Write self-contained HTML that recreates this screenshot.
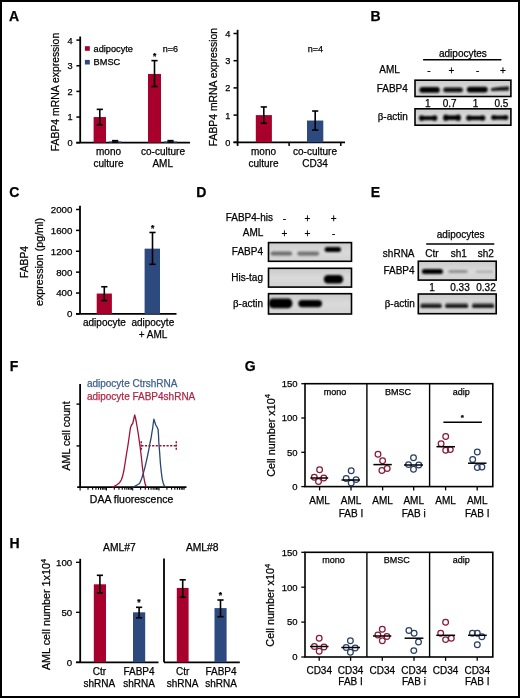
<!DOCTYPE html>
<html><head><meta charset="utf-8"><style>
html,body{margin:0;padding:0;background:#fff;}
svg{display:block;font-family:"Liberation Sans", sans-serif;will-change:transform;} text{stroke-width:0.25px;}
</style></head><body>
<svg width="520" height="698" viewBox="0 0 520 698">
<defs><filter id="bl1" x="-20%" y="-50%" width="140%" height="200%"><feGaussianBlur stdDeviation="0.9"/></filter><filter id="bl2" x="-20%" y="-50%" width="140%" height="200%"><feGaussianBlur stdDeviation="1.3"/></filter><linearGradient id="blotbg" x1="0" y1="0" x2="0" y2="1"><stop offset="0" stop-color="#cbcbcb"/><stop offset="0.5" stop-color="#dadada"/><stop offset="1" stop-color="#d2d2d2"/></linearGradient></defs>
<rect x="0" y="0" width="520" height="698" fill="#fff"/>
<rect x="1" y="1" width="518" height="696" fill="none" stroke="#000" stroke-width="2"/>
<text x="9.1" y="20.9" font-size="14" text-anchor="start" font-weight="bold" fill="#000" stroke="#000">A</text>
<text x="370.6" y="20.8" font-size="14" text-anchor="start" font-weight="bold" fill="#000" stroke="#000">B</text>
<text x="9.2" y="196.8" font-size="14" text-anchor="start" font-weight="bold" fill="#000" stroke="#000">C</text>
<text x="196.3" y="196.8" font-size="14" text-anchor="start" font-weight="bold" fill="#000" stroke="#000">D</text>
<text x="370.8" y="196.8" font-size="14" text-anchor="start" font-weight="bold" fill="#000" stroke="#000">E</text>
<text x="9.7" y="370.5" font-size="14" text-anchor="start" font-weight="bold" fill="#000" stroke="#000">F</text>
<text x="244.8" y="371.2" font-size="14" text-anchor="start" font-weight="bold" fill="#000" stroke="#000">G</text>
<text x="9.6" y="548" font-size="14" text-anchor="start" font-weight="bold" fill="#000" stroke="#000">H</text>
<line x1="80.2" y1="36.5" x2="80.2" y2="142.7" stroke="#000" stroke-width="1.8"/>
<line x1="76.2" y1="142.7" x2="190" y2="142.7" stroke="#000" stroke-width="1.8"/>
<line x1="76.4" y1="142.7" x2="80.2" y2="142.7" stroke="#000" stroke-width="1.5"/>
<text x="72.6" y="146.1" font-size="9.2" text-anchor="end" font-weight="normal" fill="#000" stroke="#000">0</text>
<line x1="76.4" y1="117.04999999999998" x2="80.2" y2="117.04999999999998" stroke="#000" stroke-width="1.5"/>
<text x="72.6" y="120.44999999999999" font-size="9.2" text-anchor="end" font-weight="normal" fill="#000" stroke="#000">1</text>
<line x1="76.4" y1="91.39999999999999" x2="80.2" y2="91.39999999999999" stroke="#000" stroke-width="1.5"/>
<text x="72.6" y="94.8" font-size="9.2" text-anchor="end" font-weight="normal" fill="#000" stroke="#000">2</text>
<line x1="76.4" y1="65.75" x2="80.2" y2="65.75" stroke="#000" stroke-width="1.5"/>
<text x="72.6" y="69.15" font-size="9.2" text-anchor="end" font-weight="normal" fill="#000" stroke="#000">3</text>
<line x1="76.4" y1="40.099999999999994" x2="80.2" y2="40.099999999999994" stroke="#000" stroke-width="1.5"/>
<text x="72.6" y="43.49999999999999" font-size="9.2" text-anchor="end" font-weight="normal" fill="#000" stroke="#000">4</text>
<text x="59.3" y="92" font-size="10.4" text-anchor="middle" font-weight="normal" fill="#000" stroke="#000" transform="rotate(-90 59.3 92)">FABP4 mRNA expression</text>
<rect x="84.9" y="46.2" width="4.9" height="4.6" fill="#a8002c"/>
<text x="93.6" y="51.6" font-size="9.2" text-anchor="start" font-weight="normal" fill="#000" stroke="#000">adipocyte</text>
<rect x="84.9" y="59.9" width="4.9" height="4.6" fill="#2c4a7e"/>
<text x="93.6" y="65.4" font-size="9.2" text-anchor="start" font-weight="normal" fill="#000" stroke="#000">BMSC</text>
<text x="162.8" y="51.8" font-size="9" text-anchor="start" font-weight="normal" fill="#000" stroke="#000">n=6</text>
<rect x="93.6" y="117.04999999999998" width="12.4" height="25.650000000000006" fill="#a8002c"/>
<line x1="99.8" y1="109.35499999999999" x2="99.8" y2="124.74499999999999" stroke="#000" stroke-width="1.6"/>
<line x1="96.7" y1="109.35499999999999" x2="102.89999999999999" y2="109.35499999999999" stroke="#000" stroke-width="1.6"/>
<line x1="96.7" y1="124.74499999999999" x2="102.89999999999999" y2="124.74499999999999" stroke="#000" stroke-width="1.6"/>
<rect x="109.1" y="141.4175" width="12.1" height="1.2824999999999989" fill="#2c4a7e"/>
<line x1="115.15" y1="140.648" x2="115.15" y2="142.18699999999998" stroke="#000" stroke-width="1.6"/>
<line x1="112.05000000000001" y1="140.648" x2="118.25" y2="140.648" stroke="#000" stroke-width="1.6"/>
<line x1="112.05000000000001" y1="142.18699999999998" x2="118.25" y2="142.18699999999998" stroke="#000" stroke-width="1.6"/>
<rect x="148" y="73.95799999999998" width="13" height="68.742" fill="#a8002c"/>
<line x1="154.5" y1="60.61999999999999" x2="154.5" y2="86.5265" stroke="#000" stroke-width="1.6"/>
<line x1="151.4" y1="60.61999999999999" x2="157.6" y2="60.61999999999999" stroke="#000" stroke-width="1.6"/>
<line x1="151.4" y1="86.5265" x2="157.6" y2="86.5265" stroke="#000" stroke-width="1.6"/>
<rect x="164" y="141.4175" width="13" height="1.2824999999999989" fill="#2c4a7e"/>
<line x1="170.5" y1="140.648" x2="170.5" y2="142.18699999999998" stroke="#000" stroke-width="1.6"/>
<line x1="167.4" y1="140.648" x2="173.6" y2="140.648" stroke="#000" stroke-width="1.6"/>
<line x1="167.4" y1="142.18699999999998" x2="173.6" y2="142.18699999999998" stroke="#000" stroke-width="1.6"/>
<text x="154.6" y="58.87" font-size="8.5" text-anchor="middle" font-weight="bold" fill="#000" stroke="#000">*</text>
<text x="108.5" y="154.9" font-size="10" text-anchor="middle" font-weight="normal" fill="#000" stroke="#000">mono</text>
<text x="108.5" y="166.9" font-size="10" text-anchor="middle" font-weight="normal" fill="#000" stroke="#000">culture</text>
<text x="163" y="154.9" font-size="10" text-anchor="middle" font-weight="normal" fill="#000" stroke="#000">co-culture</text>
<text x="162.7" y="166.9" font-size="10" text-anchor="middle" font-weight="normal" fill="#000" stroke="#000">AML</text>
<line x1="237.6" y1="29.8" x2="237.6" y2="145.9" stroke="#000" stroke-width="1.8"/>
<line x1="233.5" y1="142.3" x2="345" y2="142.3" stroke="#000" stroke-width="1.8"/>
<line x1="233.5" y1="142.3" x2="237.6" y2="142.3" stroke="#000" stroke-width="1.5"/>
<text x="230.4" y="145.70000000000002" font-size="9.2" text-anchor="end" font-weight="normal" fill="#000" stroke="#000">0</text>
<line x1="233.5" y1="115.10000000000001" x2="237.6" y2="115.10000000000001" stroke="#000" stroke-width="1.5"/>
<text x="230.4" y="118.50000000000001" font-size="9.2" text-anchor="end" font-weight="normal" fill="#000" stroke="#000">1</text>
<line x1="233.5" y1="87.9" x2="237.6" y2="87.9" stroke="#000" stroke-width="1.5"/>
<text x="230.4" y="91.30000000000001" font-size="9.2" text-anchor="end" font-weight="normal" fill="#000" stroke="#000">2</text>
<line x1="233.5" y1="60.70000000000002" x2="237.6" y2="60.70000000000002" stroke="#000" stroke-width="1.5"/>
<text x="230.4" y="64.10000000000002" font-size="9.2" text-anchor="end" font-weight="normal" fill="#000" stroke="#000">3</text>
<line x1="233.5" y1="33.500000000000014" x2="237.6" y2="33.500000000000014" stroke="#000" stroke-width="1.5"/>
<text x="230.4" y="36.90000000000001" font-size="9.2" text-anchor="end" font-weight="normal" fill="#000" stroke="#000">4</text>
<line x1="289.1" y1="142.3" x2="289.1" y2="146" stroke="#000" stroke-width="1.5"/>
<line x1="340.8" y1="142.3" x2="340.8" y2="146" stroke="#000" stroke-width="1.5"/>
<text x="217.3" y="87.1" font-size="10.4" text-anchor="middle" font-weight="normal" fill="#000" stroke="#000" transform="rotate(-90 217.3 87.1)">FABP4 mRNA expression</text>
<text x="307.7" y="51.8" font-size="9" text-anchor="start" font-weight="normal" fill="#000" stroke="#000">n=4</text>
<rect x="255.8" y="115.10000000000001" width="16.1" height="27.200000000000003" fill="#a8002c"/>
<line x1="263.8" y1="106.94000000000001" x2="263.8" y2="123.26000000000002" stroke="#000" stroke-width="1.6"/>
<line x1="260.7" y1="106.94000000000001" x2="266.90000000000003" y2="106.94000000000001" stroke="#000" stroke-width="1.6"/>
<line x1="260.7" y1="123.26000000000002" x2="266.90000000000003" y2="123.26000000000002" stroke="#000" stroke-width="1.6"/>
<rect x="307" y="120.54" width="16.3" height="21.760000000000005" fill="#2c4a7e"/>
<line x1="315.2" y1="111.02000000000001" x2="315.2" y2="130.06" stroke="#000" stroke-width="1.6"/>
<line x1="312.09999999999997" y1="111.02000000000001" x2="318.3" y2="111.02000000000001" stroke="#000" stroke-width="1.6"/>
<line x1="312.09999999999997" y1="130.06" x2="318.3" y2="130.06" stroke="#000" stroke-width="1.6"/>
<text x="263.5" y="154.5" font-size="10" text-anchor="middle" font-weight="normal" fill="#000" stroke="#000">mono</text>
<text x="263.5" y="167.2" font-size="10" text-anchor="middle" font-weight="normal" fill="#000" stroke="#000">culture</text>
<text x="315" y="154.5" font-size="10" text-anchor="middle" font-weight="normal" fill="#000" stroke="#000">co-culture</text>
<text x="315" y="167.2" font-size="10" text-anchor="middle" font-weight="normal" fill="#000" stroke="#000">CD34</text>
<line x1="80" y1="205.8" x2="80" y2="313.9" stroke="#000" stroke-width="1.8"/>
<line x1="76" y1="313.9" x2="176.5" y2="313.9" stroke="#000" stroke-width="1.8"/>
<line x1="76" y1="313.9" x2="80" y2="313.9" stroke="#000" stroke-width="1.5"/>
<text x="72.4" y="317.29999999999995" font-size="9.7" text-anchor="end" font-weight="normal" fill="#000" stroke="#000">0</text>
<line x1="76" y1="293.02" x2="80" y2="293.02" stroke="#000" stroke-width="1.5"/>
<text x="72.4" y="296.41999999999996" font-size="9.7" text-anchor="end" font-weight="normal" fill="#000" stroke="#000">400</text>
<line x1="76" y1="272.14" x2="80" y2="272.14" stroke="#000" stroke-width="1.5"/>
<text x="72.4" y="275.53999999999996" font-size="9.7" text-anchor="end" font-weight="normal" fill="#000" stroke="#000">800</text>
<line x1="76" y1="251.26" x2="80" y2="251.26" stroke="#000" stroke-width="1.5"/>
<text x="72.4" y="254.66" font-size="9.7" text-anchor="end" font-weight="normal" fill="#000" stroke="#000">1200</text>
<line x1="76" y1="230.37999999999997" x2="80" y2="230.37999999999997" stroke="#000" stroke-width="1.5"/>
<text x="72.4" y="233.77999999999997" font-size="9.7" text-anchor="end" font-weight="normal" fill="#000" stroke="#000">1600</text>
<line x1="76" y1="209.49999999999997" x2="80" y2="209.49999999999997" stroke="#000" stroke-width="1.5"/>
<text x="72.4" y="212.89999999999998" font-size="9.7" text-anchor="end" font-weight="normal" fill="#000" stroke="#000">2000</text>
<text x="27.5" y="262" font-size="10.3" text-anchor="middle" font-weight="normal" fill="#000" stroke="#000" transform="rotate(-90 27.5 262)">FABP4</text>
<text x="43.4" y="262" font-size="10.7" text-anchor="middle" font-weight="normal" fill="#000" stroke="#000" transform="rotate(-90 43.4 262)">expression (pg/ml)</text>
<rect x="96.7" y="293.542" width="15.2" height="20.358000000000004" fill="#a8002c"/>
<line x1="104.3" y1="286.756" x2="104.3" y2="300.589" stroke="#000" stroke-width="1.6"/>
<line x1="101.2" y1="286.756" x2="107.39999999999999" y2="286.756" stroke="#000" stroke-width="1.6"/>
<line x1="101.2" y1="300.589" x2="107.39999999999999" y2="300.589" stroke="#000" stroke-width="1.6"/>
<rect x="144.6" y="248.64999999999998" width="15.4" height="65.25" fill="#2c4a7e"/>
<line x1="152.5" y1="232.46799999999996" x2="152.5" y2="264.30999999999995" stroke="#000" stroke-width="1.6"/>
<line x1="149.4" y1="232.46799999999996" x2="155.6" y2="232.46799999999996" stroke="#000" stroke-width="1.6"/>
<line x1="149.4" y1="264.30999999999995" x2="155.6" y2="264.30999999999995" stroke="#000" stroke-width="1.6"/>
<text x="152.6" y="231.17" font-size="8.5" text-anchor="middle" font-weight="bold" fill="#000" stroke="#000">*</text>
<text x="104.4" y="326.4" font-size="10" text-anchor="middle" font-weight="normal" fill="#000" stroke="#000">adipocyte</text>
<text x="152.8" y="326.4" font-size="10" text-anchor="middle" font-weight="normal" fill="#000" stroke="#000">adipocyte</text>
<text x="153" y="338" font-size="10" text-anchor="middle" font-weight="normal" fill="#000" stroke="#000">+ AML</text>
<text x="462.9" y="56.5" font-size="10" text-anchor="middle" font-weight="normal" fill="#000" stroke="#000">adipocytes</text>
<line x1="423.1" y1="59.7" x2="501.4" y2="59.7" stroke="#000" stroke-width="1.5"/>
<text x="389.6" y="72.8" font-size="10" text-anchor="middle" font-weight="normal" fill="#000" stroke="#000">AML</text>
<text x="429" y="74" font-size="10" text-anchor="middle" font-weight="normal" fill="#000" stroke="#000">-</text>
<text x="451.3" y="74" font-size="10" text-anchor="middle" font-weight="normal" fill="#000" stroke="#000">+</text>
<text x="477.7" y="74" font-size="10" text-anchor="middle" font-weight="normal" fill="#000" stroke="#000">-</text>
<text x="503" y="74" font-size="10" text-anchor="middle" font-weight="normal" fill="#000" stroke="#000">+</text>
<rect x="415" y="80.2" width="95.89999999999998" height="16.299999999999997" fill="url(#blotbg)" stroke="#000" stroke-width="1.6"/>
<rect x="419.40000000000003" y="87.10000000000001" width="20.4" height="5.6" rx="2.8" ry="2.8" fill="#050505" opacity="1" filter="url(#bl1)"/>
<rect x="443.1" y="87.60000000000001" width="19.9" height="4.6" rx="2.3" ry="2.3" fill="#0a0a0a" opacity="1" filter="url(#bl1)"/>
<rect x="466.8" y="86.8" width="21.00000000000002" height="5.6" rx="2.8" ry="2.8" fill="#030303" opacity="1" filter="url(#bl1)"/>
<path d="M491,90.4 L491,88.2 Q499,86.6 509,86.4 L509,90.6 Q499,90.6 491,91.0 Z" fill="#0a0a0a" filter="url(#bl1)"/>
<text x="392.3" y="92" font-size="10" text-anchor="middle" font-weight="normal" fill="#000" stroke="#000">FABP4</text>
<text x="427.8" y="107.3" font-size="10" text-anchor="middle" font-weight="normal" fill="#000" stroke="#000">1</text>
<text x="449.6" y="107.3" font-size="10" text-anchor="middle" font-weight="normal" fill="#000" stroke="#000">0.7</text>
<text x="475.6" y="107.3" font-size="10" text-anchor="middle" font-weight="normal" fill="#000" stroke="#000">1</text>
<text x="501.4" y="107.3" font-size="10" text-anchor="middle" font-weight="normal" fill="#000" stroke="#000">0.5</text>
<rect x="415" y="108.8" width="95.89999999999998" height="16.400000000000006" fill="url(#blotbg)" stroke="#000" stroke-width="1.6"/>
<g filter="url(#bl1)" fill="#050505"><ellipse cx="421.658" cy="118.1" rx="2.7579999999999987" ry="2.8"/><ellipse cx="434.642" cy="118.1" rx="2.7579999999999987" ry="2.8"/><rect x="421.058" y="116.1" width="14.18399999999999" height="4.0"/></g>
<g filter="url(#bl1)" fill="#050505"><ellipse cx="445.76000000000005" cy="117.7" rx="2.66" ry="3.2"/><ellipse cx="458.23999999999995" cy="117.7" rx="2.66" ry="3.2"/><rect x="445.16" y="115.4" width="13.68" height="4.6"/></g>
<g filter="url(#bl1)" fill="#050505"><ellipse cx="468.97" cy="118.0" rx="2.87" ry="2.8"/><ellipse cx="482.53" cy="118.0" rx="2.87" ry="2.8"/><rect x="468.37" y="115.9" width="14.76" height="4.2"/></g>
<g filter="url(#bl1)" fill="#050505"><ellipse cx="493.69" cy="117.6" rx="2.5900000000000003" ry="2.5"/><ellipse cx="505.81" cy="117.6" rx="2.5900000000000003" ry="2.5"/><rect x="493.09" y="115.6" width="13.32" height="4.0"/></g>
<text x="407.8" y="120.2" font-size="10" text-anchor="end" stroke="#000"><tspan font-family="Liberation Serif, serif" font-size="11.0">&#946;</tspan>-actin</text>
<text x="249.3" y="221.2" font-size="10" text-anchor="middle" font-weight="normal" fill="#000" stroke="#000">FABP4-his</text>
<text x="253" y="235.7" font-size="10" text-anchor="middle" font-weight="normal" fill="#000" stroke="#000">AML</text>
<text x="284.5" y="222" font-size="10" text-anchor="middle" font-weight="normal" fill="#000" stroke="#000">-</text>
<text x="307.5" y="222" font-size="10" text-anchor="middle" font-weight="normal" fill="#000" stroke="#000">+</text>
<text x="333.7" y="222" font-size="10" text-anchor="middle" font-weight="normal" fill="#000" stroke="#000">+</text>
<text x="284.5" y="236.5" font-size="10" text-anchor="middle" font-weight="normal" fill="#000" stroke="#000">+</text>
<text x="307.5" y="236.5" font-size="10" text-anchor="middle" font-weight="normal" fill="#000" stroke="#000">+</text>
<text x="333.7" y="236.5" font-size="10" text-anchor="middle" font-weight="normal" fill="#000" stroke="#000">-</text>
<rect x="268.5" y="242.6" width="83.0" height="18.700000000000017" fill="url(#blotbg)" stroke="#000" stroke-width="1.6"/>
<rect x="270.6" y="251.4" width="21.599999999999987" height="4.2" rx="2.1" ry="2.1" fill="#606060" opacity="0.9" filter="url(#bl2)"/>
<rect x="297.3" y="251.5" width="21.9" height="4.2" rx="2.1" ry="2.1" fill="#686868" opacity="0.9" filter="url(#bl2)"/>
<rect x="324.6" y="247.1" width="16.4" height="5.0" rx="2.5" ry="2.5" fill="#050505" opacity="1" filter="url(#bl1)"/>
<text x="263" y="255.3" font-size="10" text-anchor="end" font-weight="normal" fill="#000" stroke="#000">FABP4</text>
<rect x="268.5" y="268.3" width="83.0" height="18.80000000000001" fill="url(#blotbg)" stroke="#000" stroke-width="1.6"/>
<rect x="323.8" y="274.95" width="19.4" height="8.5" rx="4" ry="4.25" fill="#000" opacity="1" filter="url(#bl1)"/>
<text x="263" y="280.7" font-size="10" text-anchor="end" font-weight="normal" fill="#000" stroke="#000">His-tag</text>
<rect x="268.5" y="293.7" width="83.0" height="20.30000000000001" fill="url(#blotbg)" stroke="#000" stroke-width="1.6"/>
<rect x="268.6" y="298.59999999999997" width="23.799999999999976" height="9.6" rx="4" ry="4.8" fill="#000" opacity="1" filter="url(#bl1)"/>
<rect x="298.3" y="300.0" width="23.70000000000001" height="7.2" rx="3.6" ry="3.6" fill="#000" opacity="1" filter="url(#bl1)"/>
<text x="263" y="306.6" font-size="10" text-anchor="end" stroke="#000"><tspan font-family="Liberation Serif, serif" font-size="11.0">&#946;</tspan>-actin</text>
<text x="460.7" y="238.2" font-size="10" text-anchor="middle" font-weight="normal" fill="#000" stroke="#000">adipocytes</text>
<line x1="426.2" y1="244.1" x2="494.3" y2="244.1" stroke="#000" stroke-width="1.5"/>
<text x="398.7" y="257" font-size="10" text-anchor="middle" font-weight="normal" fill="#000" stroke="#000">shRNA</text>
<text x="432" y="257" font-size="10" text-anchor="middle" font-weight="normal" fill="#000" stroke="#000">Ctr</text>
<text x="458.7" y="257" font-size="10" text-anchor="middle" font-weight="normal" fill="#000" stroke="#000">sh1</text>
<text x="485.8" y="257" font-size="10" text-anchor="middle" font-weight="normal" fill="#000" stroke="#000">sh2</text>
<rect x="418.3" y="261.2" width="77.89999999999998" height="18.900000000000034" fill="url(#blotbg)" stroke="#000" stroke-width="1.6"/>
<rect x="421.8" y="269.1" width="21.20000000000001" height="5.0" rx="2.5" ry="2.5" fill="#050505" opacity="1" filter="url(#bl1)"/>
<rect x="448.3" y="270.1" width="19.4" height="3.0" rx="1.5" ry="1.5" fill="#888" opacity="0.9" filter="url(#bl1)"/>
<rect x="475.7" y="270.55" width="17.50000000000002" height="2.5" rx="1.25" ry="1.25" fill="#aaa" opacity="0.9" filter="url(#bl1)"/>
<text x="399" y="274.4" font-size="10" text-anchor="middle" font-weight="normal" fill="#000" stroke="#000">FABP4</text>
<text x="432" y="290.6" font-size="10" text-anchor="middle" font-weight="normal" fill="#000" stroke="#000">1</text>
<text x="460" y="290.6" font-size="10" text-anchor="middle" font-weight="normal" fill="#000" stroke="#000">0.33</text>
<text x="486" y="290.6" font-size="10" text-anchor="middle" font-weight="normal" fill="#000" stroke="#000">0.32</text>
<rect x="418.3" y="294" width="77.89999999999998" height="19.69999999999999" fill="url(#blotbg)" stroke="#000" stroke-width="1.6"/>
<rect x="420.40000000000003" y="302.4" width="21.4" height="3.2" rx="1.6" ry="1.6" fill="#777" opacity="0.8" filter="url(#bl2)"/>
<rect x="420.40000000000003" y="304.59999999999997" width="21.4" height="3.2" rx="1.6" ry="1.6" fill="#050505" opacity="1" filter="url(#bl1)"/>
<rect x="445.1" y="302.4" width="23.099999999999987" height="3.2" rx="1.6" ry="1.6" fill="#777" opacity="0.8" filter="url(#bl2)"/>
<rect x="445.1" y="304.59999999999997" width="23.099999999999987" height="3.2" rx="1.6" ry="1.6" fill="#050505" opacity="1" filter="url(#bl1)"/>
<rect x="472.0" y="302.4" width="22.20000000000001" height="3.2" rx="1.6" ry="1.6" fill="#777" opacity="0.8" filter="url(#bl2)"/>
<rect x="472.0" y="304.59999999999997" width="22.20000000000001" height="3.2" rx="1.6" ry="1.6" fill="#050505" opacity="1" filter="url(#bl1)"/>
<text x="414.8" y="306.7" font-size="10" text-anchor="end" stroke="#000"><tspan font-family="Liberation Serif, serif" font-size="11.0">&#946;</tspan>-actin</text>
<line x1="80.1" y1="384" x2="80.1" y2="488" stroke="#000" stroke-width="1.8"/>
<line x1="77.2" y1="487.1" x2="186.5" y2="487.1" stroke="#000" stroke-width="1.8"/>
<line x1="76.5" y1="404.1" x2="80.1" y2="404.1" stroke="#000" stroke-width="1.4"/>
<line x1="76.5" y1="445.9" x2="80.1" y2="445.9" stroke="#000" stroke-width="1.4"/>
<line x1="80.1" y1="487.1" x2="80.1" y2="490.5" stroke="#000" stroke-width="1.1"/>
<line x1="88.01708888596269" y1="487.1" x2="88.01708888596269" y2="489.70000000000005" stroke="#000" stroke-width="1.1"/>
<line x1="92.64828899912712" y1="487.1" x2="92.64828899912712" y2="489.70000000000005" stroke="#000" stroke-width="1.1"/>
<line x1="95.9341777719254" y1="487.1" x2="95.9341777719254" y2="489.70000000000005" stroke="#000" stroke-width="1.1"/>
<line x1="98.4829111140373" y1="487.1" x2="98.4829111140373" y2="489.70000000000005" stroke="#000" stroke-width="1.1"/>
<line x1="100.56537788508982" y1="487.1" x2="100.56537788508982" y2="489.70000000000005" stroke="#000" stroke-width="1.1"/>
<line x1="102.32607845237496" y1="487.1" x2="102.32607845237496" y2="489.70000000000005" stroke="#000" stroke-width="1.1"/>
<line x1="103.85126665788812" y1="487.1" x2="103.85126665788812" y2="489.70000000000005" stroke="#000" stroke-width="1.1"/>
<line x1="105.19657799825424" y1="487.1" x2="105.19657799825424" y2="489.70000000000005" stroke="#000" stroke-width="1.1"/>
<line x1="106.39999999999999" y1="487.1" x2="106.39999999999999" y2="490.5" stroke="#000" stroke-width="1.1"/>
<line x1="114.3170888859627" y1="487.1" x2="114.3170888859627" y2="489.70000000000005" stroke="#000" stroke-width="1.1"/>
<line x1="118.94828899912712" y1="487.1" x2="118.94828899912712" y2="489.70000000000005" stroke="#000" stroke-width="1.1"/>
<line x1="122.2341777719254" y1="487.1" x2="122.2341777719254" y2="489.70000000000005" stroke="#000" stroke-width="1.1"/>
<line x1="124.78291111403729" y1="487.1" x2="124.78291111403729" y2="489.70000000000005" stroke="#000" stroke-width="1.1"/>
<line x1="126.86537788508983" y1="487.1" x2="126.86537788508983" y2="489.70000000000005" stroke="#000" stroke-width="1.1"/>
<line x1="128.62607845237494" y1="487.1" x2="128.62607845237494" y2="489.70000000000005" stroke="#000" stroke-width="1.1"/>
<line x1="130.1512666578881" y1="487.1" x2="130.1512666578881" y2="489.70000000000005" stroke="#000" stroke-width="1.1"/>
<line x1="131.49657799825422" y1="487.1" x2="131.49657799825422" y2="489.70000000000005" stroke="#000" stroke-width="1.1"/>
<line x1="132.7" y1="487.1" x2="132.7" y2="490.5" stroke="#000" stroke-width="1.1"/>
<line x1="140.6170888859627" y1="487.1" x2="140.6170888859627" y2="489.70000000000005" stroke="#000" stroke-width="1.1"/>
<line x1="145.2482889991271" y1="487.1" x2="145.2482889991271" y2="489.70000000000005" stroke="#000" stroke-width="1.1"/>
<line x1="148.53417777192539" y1="487.1" x2="148.53417777192539" y2="489.70000000000005" stroke="#000" stroke-width="1.1"/>
<line x1="151.08291111403727" y1="487.1" x2="151.08291111403727" y2="489.70000000000005" stroke="#000" stroke-width="1.1"/>
<line x1="153.1653778850898" y1="487.1" x2="153.1653778850898" y2="489.70000000000005" stroke="#000" stroke-width="1.1"/>
<line x1="154.92607845237495" y1="487.1" x2="154.92607845237495" y2="489.70000000000005" stroke="#000" stroke-width="1.1"/>
<line x1="156.4512666578881" y1="487.1" x2="156.4512666578881" y2="489.70000000000005" stroke="#000" stroke-width="1.1"/>
<line x1="157.79657799825424" y1="487.1" x2="157.79657799825424" y2="489.70000000000005" stroke="#000" stroke-width="1.1"/>
<line x1="159.0" y1="487.1" x2="159.0" y2="490.5" stroke="#000" stroke-width="1.1"/>
<line x1="166.9170888859627" y1="487.1" x2="166.9170888859627" y2="489.70000000000005" stroke="#000" stroke-width="1.1"/>
<line x1="171.54828899912712" y1="487.1" x2="171.54828899912712" y2="489.70000000000005" stroke="#000" stroke-width="1.1"/>
<line x1="174.8341777719254" y1="487.1" x2="174.8341777719254" y2="489.70000000000005" stroke="#000" stroke-width="1.1"/>
<line x1="177.38291111403728" y1="487.1" x2="177.38291111403728" y2="489.70000000000005" stroke="#000" stroke-width="1.1"/>
<line x1="179.46537788508982" y1="487.1" x2="179.46537788508982" y2="489.70000000000005" stroke="#000" stroke-width="1.1"/>
<line x1="181.22607845237496" y1="487.1" x2="181.22607845237496" y2="489.70000000000005" stroke="#000" stroke-width="1.1"/>
<line x1="182.75126665788812" y1="487.1" x2="182.75126665788812" y2="489.70000000000005" stroke="#000" stroke-width="1.1"/>
<line x1="184.09657799825425" y1="487.1" x2="184.09657799825425" y2="489.70000000000005" stroke="#000" stroke-width="1.1"/>
<text x="86.9" y="387.2" font-size="10" text-anchor="start" font-weight="normal" fill="#3f6090" stroke="#3f6090" stroke-width="0.1">adipocyte CtrshRNA</text>
<text x="86.9" y="400.0" font-size="10" text-anchor="start" font-weight="normal" fill="#b02848" stroke="#b02848" stroke-width="0.1">adipocyte FABP4shRNA</text>
<text x="70.5" y="435.9" font-size="10.6" text-anchor="middle" font-weight="normal" fill="#000" stroke="#000" transform="rotate(-90 70.5 435.9)">AML cell count</text>
<text x="131.6" y="502.9" font-size="10.5" text-anchor="middle" font-weight="normal" fill="#000" stroke="#000">DAA fluorescence</text>
<path d="M112,487.1 L114.2,486.4 L117,484.8 L119.6,482.7 L121.5,479.5 L122.7,475.8 L124,470 L125,463.5 L126.5,454 L128,445 L129.3,436 L130.4,428 L131.5,425 L132.7,423.5 L133.8,419 L134.7,415 L135.5,418 L136.3,422 L137.3,428 L138.3,434 L139.2,440.4 L140.3,448 L141.2,455.8 L142,463 L142.7,469.6 L143.8,477 L144.7,482 L145.7,485.8 L147,487.1" stroke="#9c1438" stroke-width="1.3" fill="none" stroke-linejoin="round"/>
<path d="M132,487.1 L134.2,486.6 L137,485 L139.6,483.5 L141.5,479 L143.5,472.7 L145,467 L146.2,461.9 L147.5,456 L148.8,449.6 L150,443 L151.2,437.3 L152,432 L152.7,428 L153.3,423 L153.9,419.2 L154.8,422 L155.8,425 L157,427 L158.1,429.6 L158.5,435 L158.8,441.9 L159.6,452 L160.4,463.5 L161.3,472 L162.2,478.8 L163.2,483 L164.2,485.8 L166,487.1" stroke="#2a4474" stroke-width="1.3" fill="none" stroke-linejoin="round"/>
<line x1="141.3" y1="445.8" x2="176.3" y2="445.8" stroke="#8a1a35" stroke-width="1.5" stroke-dasharray="2.2,1.4"/>
<line x1="141.3" y1="441.3" x2="141.3" y2="450.4" stroke="#8a1a35" stroke-width="1.5" stroke-dasharray="2,1.2"/>
<line x1="176.3" y1="441.3" x2="176.3" y2="450.4" stroke="#8a1a35" stroke-width="1.5" stroke-dasharray="2,1.2"/>
<rect x="305" y="383.7" width="187.8" height="102.90000000000003" fill="none" stroke="#000" stroke-width="1.6"/>
<line x1="366.9" y1="383.7" x2="366.9" y2="486.6" stroke="#000" stroke-width="1.4"/>
<line x1="429.6" y1="383.7" x2="429.6" y2="486.6" stroke="#000" stroke-width="1.4"/>
<line x1="301.3" y1="486.6" x2="305" y2="486.6" stroke="#000" stroke-width="1.3"/>
<text x="297.6" y="489.90000000000003" font-size="9.5" text-anchor="end" font-weight="normal" fill="#000" stroke="#000">0</text>
<line x1="301.3" y1="452.3" x2="305" y2="452.3" stroke="#000" stroke-width="1.3"/>
<text x="297.6" y="455.6" font-size="9.5" text-anchor="end" font-weight="normal" fill="#000" stroke="#000">50</text>
<line x1="301.3" y1="418.0" x2="305" y2="418.0" stroke="#000" stroke-width="1.3"/>
<text x="297.6" y="421.3" font-size="9.5" text-anchor="end" font-weight="normal" fill="#000" stroke="#000">100</text>
<line x1="301.3" y1="383.7" x2="305" y2="383.7" stroke="#000" stroke-width="1.3"/>
<text x="297.6" y="387.0" font-size="9.5" text-anchor="end" font-weight="normal" fill="#000" stroke="#000">150</text>
<line x1="319.6" y1="486.6" x2="319.6" y2="490.40000000000003" stroke="#000" stroke-width="1.3"/>
<line x1="351.0" y1="486.6" x2="351.0" y2="490.40000000000003" stroke="#000" stroke-width="1.3"/>
<line x1="382.6" y1="486.6" x2="382.6" y2="490.40000000000003" stroke="#000" stroke-width="1.3"/>
<line x1="413.7" y1="486.6" x2="413.7" y2="490.40000000000003" stroke="#000" stroke-width="1.3"/>
<line x1="445.6" y1="486.6" x2="445.6" y2="490.40000000000003" stroke="#000" stroke-width="1.3"/>
<line x1="477.2" y1="486.6" x2="477.2" y2="490.40000000000003" stroke="#000" stroke-width="1.3"/>
<text x="335" y="394.7" font-size="9" text-anchor="middle" font-weight="normal" fill="#000" stroke="#000">mono</text>
<text x="398" y="394.7" font-size="9" text-anchor="middle" font-weight="normal" fill="#000" stroke="#000">BMSC</text>
<text x="461.2" y="394.7" font-size="9" text-anchor="middle" font-weight="normal" fill="#000" stroke="#000">adip</text>
<text x="319.6" y="504.2" font-size="10" text-anchor="middle" font-weight="normal" fill="#000" stroke="#000">AML</text>
<text x="351.0" y="504.2" font-size="10" text-anchor="middle" font-weight="normal" fill="#000" stroke="#000">AML</text>
<text x="382.6" y="504.2" font-size="10" text-anchor="middle" font-weight="normal" fill="#000" stroke="#000">AML</text>
<text x="413.7" y="504.2" font-size="10" text-anchor="middle" font-weight="normal" fill="#000" stroke="#000">AML</text>
<text x="445.6" y="504.2" font-size="10" text-anchor="middle" font-weight="normal" fill="#000" stroke="#000">AML</text>
<text x="477.2" y="504.2" font-size="10" text-anchor="middle" font-weight="normal" fill="#000" stroke="#000">AML</text>
<text x="351.0" y="517.0" font-size="10" text-anchor="middle" font-weight="normal" fill="#000" stroke="#000">FAB I</text>
<text x="413.7" y="517.0" font-size="10" text-anchor="middle" font-weight="normal" fill="#000" stroke="#000">FAB i</text>
<text x="477.2" y="517.0" font-size="10" text-anchor="middle" font-weight="normal" fill="#000" stroke="#000">FAB I</text>
<text x="274.6" y="435.4" font-size="10.8" stroke="#000" text-anchor="middle" transform="rotate(-90 274.6 435.4)">Cell number x10<tspan font-size="7.6" dy="-4.6">4</tspan></text>
<circle cx="319.6" cy="469.7" r="2.85" fill="none" stroke="#8a1a38" stroke-width="1.25"/>
<circle cx="314.3" cy="477.3" r="2.85" fill="none" stroke="#8a1a38" stroke-width="1.25"/>
<circle cx="318.5" cy="481.5" r="2.85" fill="none" stroke="#8a1a38" stroke-width="1.25"/>
<circle cx="323.8" cy="478" r="2.85" fill="none" stroke="#8a1a38" stroke-width="1.25"/>
<line x1="310.4" y1="478" x2="328.2" y2="478" stroke="#000" stroke-width="1.5"/>
<circle cx="351.2" cy="470.8" r="2.85" fill="none" stroke="#2b4068" stroke-width="1.25"/>
<circle cx="346.2" cy="478.5" r="2.85" fill="none" stroke="#2b4068" stroke-width="1.25"/>
<circle cx="351.2" cy="483" r="2.85" fill="none" stroke="#2b4068" stroke-width="1.25"/>
<circle cx="356.1" cy="479.6" r="2.85" fill="none" stroke="#2b4068" stroke-width="1.25"/>
<line x1="341.5" y1="480" x2="360" y2="480" stroke="#000" stroke-width="1.5"/>
<circle cx="378" cy="454.2" r="2.85" fill="none" stroke="#8a1a38" stroke-width="1.25"/>
<circle cx="382.6" cy="460.7" r="2.85" fill="none" stroke="#8a1a38" stroke-width="1.25"/>
<circle cx="381.9" cy="470.4" r="2.85" fill="none" stroke="#8a1a38" stroke-width="1.25"/>
<circle cx="387.2" cy="468.5" r="2.85" fill="none" stroke="#8a1a38" stroke-width="1.25"/>
<line x1="373.4" y1="464.6" x2="391.8" y2="464.6" stroke="#000" stroke-width="1.5"/>
<circle cx="413.5" cy="457.7" r="2.85" fill="none" stroke="#2b4068" stroke-width="1.25"/>
<circle cx="408.5" cy="464.6" r="2.85" fill="none" stroke="#2b4068" stroke-width="1.25"/>
<circle cx="413.5" cy="469.2" r="2.85" fill="none" stroke="#2b4068" stroke-width="1.25"/>
<circle cx="418.8" cy="465" r="2.85" fill="none" stroke="#2b4068" stroke-width="1.25"/>
<line x1="404" y1="465" x2="423" y2="465" stroke="#000" stroke-width="1.5"/>
<circle cx="445.7" cy="436.5" r="2.85" fill="none" stroke="#8a1a38" stroke-width="1.25"/>
<circle cx="441.1" cy="443.8" r="2.85" fill="none" stroke="#8a1a38" stroke-width="1.25"/>
<circle cx="445.7" cy="450.3" r="2.85" fill="none" stroke="#8a1a38" stroke-width="1.25"/>
<circle cx="450.3" cy="449.6" r="2.85" fill="none" stroke="#8a1a38" stroke-width="1.25"/>
<line x1="436.5" y1="446.7" x2="455" y2="446.7" stroke="#000" stroke-width="1.5"/>
<circle cx="477.3" cy="451.9" r="2.85" fill="none" stroke="#2b4068" stroke-width="1.25"/>
<circle cx="472.7" cy="459.5" r="2.85" fill="none" stroke="#2b4068" stroke-width="1.25"/>
<circle cx="477.3" cy="467.4" r="2.85" fill="none" stroke="#2b4068" stroke-width="1.25"/>
<circle cx="481.9" cy="467" r="2.85" fill="none" stroke="#2b4068" stroke-width="1.25"/>
<line x1="468" y1="463.2" x2="486.5" y2="463.2" stroke="#000" stroke-width="1.5"/>
<line x1="443.4" y1="422.2" x2="481.9" y2="422.2" stroke="#000" stroke-width="1.4"/>
<text x="462.3" y="419.68" font-size="8" text-anchor="middle" font-weight="bold" fill="#000" stroke="#000">*</text>
<rect x="305" y="552.3" width="187.8" height="104.70000000000005" fill="none" stroke="#000" stroke-width="1.6"/>
<line x1="366.9" y1="552.3" x2="366.9" y2="657.0" stroke="#000" stroke-width="1.4"/>
<line x1="429.6" y1="552.3" x2="429.6" y2="657.0" stroke="#000" stroke-width="1.4"/>
<line x1="301.3" y1="657.0" x2="305" y2="657.0" stroke="#000" stroke-width="1.3"/>
<text x="297.6" y="660.3" font-size="9.5" text-anchor="end" font-weight="normal" fill="#000" stroke="#000">0</text>
<line x1="301.3" y1="622.1" x2="305" y2="622.1" stroke="#000" stroke-width="1.3"/>
<text x="297.6" y="625.4" font-size="9.5" text-anchor="end" font-weight="normal" fill="#000" stroke="#000">50</text>
<line x1="301.3" y1="587.1999999999999" x2="305" y2="587.1999999999999" stroke="#000" stroke-width="1.3"/>
<text x="297.6" y="590.4999999999999" font-size="9.5" text-anchor="end" font-weight="normal" fill="#000" stroke="#000">100</text>
<line x1="301.3" y1="552.3" x2="305" y2="552.3" stroke="#000" stroke-width="1.3"/>
<text x="297.6" y="555.5999999999999" font-size="9.5" text-anchor="end" font-weight="normal" fill="#000" stroke="#000">150</text>
<line x1="319.2" y1="657.0" x2="319.2" y2="660.8" stroke="#000" stroke-width="1.3"/>
<line x1="350.6" y1="657.0" x2="350.6" y2="660.8" stroke="#000" stroke-width="1.3"/>
<line x1="382.3" y1="657.0" x2="382.3" y2="660.8" stroke="#000" stroke-width="1.3"/>
<line x1="414.0" y1="657.0" x2="414.0" y2="660.8" stroke="#000" stroke-width="1.3"/>
<line x1="445.6" y1="657.0" x2="445.6" y2="660.8" stroke="#000" stroke-width="1.3"/>
<line x1="477.2" y1="657.0" x2="477.2" y2="660.8" stroke="#000" stroke-width="1.3"/>
<text x="333.6" y="562.6" font-size="9" text-anchor="middle" font-weight="normal" fill="#000" stroke="#000">mono</text>
<text x="396.7" y="562.6" font-size="9" text-anchor="middle" font-weight="normal" fill="#000" stroke="#000">BMSC</text>
<text x="461.3" y="562.6" font-size="9" text-anchor="middle" font-weight="normal" fill="#000" stroke="#000">adip</text>
<text x="319.2" y="673.5" font-size="10" text-anchor="middle" font-weight="normal" fill="#000" stroke="#000">CD34</text>
<text x="350.6" y="673.5" font-size="10" text-anchor="middle" font-weight="normal" fill="#000" stroke="#000">CD34</text>
<text x="382.3" y="673.5" font-size="10" text-anchor="middle" font-weight="normal" fill="#000" stroke="#000">CD34</text>
<text x="414.0" y="673.5" font-size="10" text-anchor="middle" font-weight="normal" fill="#000" stroke="#000">CD34</text>
<text x="445.6" y="673.5" font-size="10" text-anchor="middle" font-weight="normal" fill="#000" stroke="#000">CD34</text>
<text x="477.2" y="673.5" font-size="10" text-anchor="middle" font-weight="normal" fill="#000" stroke="#000">CD34</text>
<text x="350.6" y="685.0" font-size="10" text-anchor="middle" font-weight="normal" fill="#000" stroke="#000">FAB I</text>
<text x="414.0" y="685.0" font-size="10" text-anchor="middle" font-weight="normal" fill="#000" stroke="#000">FAB i</text>
<text x="477.2" y="685.0" font-size="10" text-anchor="middle" font-weight="normal" fill="#000" stroke="#000">FAB I</text>
<text x="274.2" y="605.2" font-size="10.8" stroke="#000" text-anchor="middle" transform="rotate(-90 274.2 605.2)">Cell number x10<tspan font-size="7.6" dy="-4.6">4</tspan></text>
<circle cx="319.2" cy="638.3" r="2.85" fill="none" stroke="#8a1a38" stroke-width="1.25"/>
<circle cx="314.4" cy="646.5" r="2.85" fill="none" stroke="#8a1a38" stroke-width="1.25"/>
<circle cx="319.2" cy="651.3" r="2.85" fill="none" stroke="#8a1a38" stroke-width="1.25"/>
<circle cx="324" cy="646.9" r="2.85" fill="none" stroke="#8a1a38" stroke-width="1.25"/>
<line x1="310" y1="646.5" x2="328.5" y2="646.5" stroke="#000" stroke-width="1.5"/>
<circle cx="350.4" cy="640.8" r="2.85" fill="none" stroke="#2b4068" stroke-width="1.25"/>
<circle cx="346.2" cy="647.5" r="2.85" fill="none" stroke="#2b4068" stroke-width="1.25"/>
<circle cx="350.4" cy="652.3" r="2.85" fill="none" stroke="#2b4068" stroke-width="1.25"/>
<circle cx="355.2" cy="647.9" r="2.85" fill="none" stroke="#2b4068" stroke-width="1.25"/>
<line x1="341.3" y1="647.5" x2="360" y2="647.5" stroke="#000" stroke-width="1.5"/>
<circle cx="382.3" cy="629.2" r="2.85" fill="none" stroke="#8a1a38" stroke-width="1.25"/>
<circle cx="377.9" cy="635" r="2.85" fill="none" stroke="#8a1a38" stroke-width="1.25"/>
<circle cx="382.3" cy="640.8" r="2.85" fill="none" stroke="#8a1a38" stroke-width="1.25"/>
<circle cx="386.9" cy="636.5" r="2.85" fill="none" stroke="#8a1a38" stroke-width="1.25"/>
<line x1="373" y1="636" x2="391.3" y2="636" stroke="#000" stroke-width="1.5"/>
<circle cx="408.9" cy="630.4" r="2.85" fill="none" stroke="#2b4068" stroke-width="1.25"/>
<circle cx="414.1" cy="633.3" r="2.85" fill="none" stroke="#2b4068" stroke-width="1.25"/>
<circle cx="418.5" cy="641.9" r="2.85" fill="none" stroke="#2b4068" stroke-width="1.25"/>
<circle cx="413.8" cy="650.6" r="2.85" fill="none" stroke="#2b4068" stroke-width="1.25"/>
<line x1="404.6" y1="638.2" x2="423.4" y2="638.2" stroke="#000" stroke-width="1.5"/>
<circle cx="445.6" cy="622.3" r="2.85" fill="none" stroke="#8a1a38" stroke-width="1.25"/>
<circle cx="440.7" cy="633.3" r="2.85" fill="none" stroke="#8a1a38" stroke-width="1.25"/>
<circle cx="445.6" cy="639.6" r="2.85" fill="none" stroke="#8a1a38" stroke-width="1.25"/>
<circle cx="451.3" cy="638.2" r="2.85" fill="none" stroke="#8a1a38" stroke-width="1.25"/>
<line x1="436.3" y1="635.3" x2="455.1" y2="635.3" stroke="#000" stroke-width="1.5"/>
<circle cx="472.4" cy="633.3" r="2.85" fill="none" stroke="#2b4068" stroke-width="1.25"/>
<circle cx="477.3" cy="633.3" r="2.85" fill="none" stroke="#2b4068" stroke-width="1.25"/>
<circle cx="481.9" cy="636.7" r="2.85" fill="none" stroke="#2b4068" stroke-width="1.25"/>
<circle cx="477.3" cy="644.8" r="2.85" fill="none" stroke="#2b4068" stroke-width="1.25"/>
<line x1="468" y1="635.3" x2="486.8" y2="635.3" stroke="#000" stroke-width="1.5"/>
<line x1="80.2" y1="558.8" x2="80.2" y2="662.3" stroke="#000" stroke-width="1.8"/>
<line x1="76" y1="662.3" x2="158.5" y2="662.3" stroke="#000" stroke-width="1.8"/>
<line x1="76" y1="662.3" x2="80.2" y2="662.3" stroke="#000" stroke-width="1.3"/>
<text x="72.2" y="665.6999999999999" font-size="9.7" text-anchor="end" font-weight="normal" fill="#000" stroke="#000">0</text>
<line x1="76" y1="612.3" x2="80.2" y2="612.3" stroke="#000" stroke-width="1.3"/>
<text x="72.2" y="615.6999999999999" font-size="9.7" text-anchor="end" font-weight="normal" fill="#000" stroke="#000">50</text>
<line x1="76" y1="562.3" x2="80.2" y2="562.3" stroke="#000" stroke-width="1.3"/>
<text x="72.2" y="565.6999999999999" font-size="9.7" text-anchor="end" font-weight="normal" fill="#000" stroke="#000">100</text>
<line x1="164" y1="558.5" x2="164" y2="662.3" stroke="#000" stroke-width="1.8"/>
<line x1="164" y1="662.3" x2="239.8" y2="662.3" stroke="#000" stroke-width="1.8"/>
<rect x="93.8" y="584.3" width="12.2" height="78.0" fill="#a8002c"/>
<line x1="99.9" y1="575.3" x2="99.9" y2="592.8" stroke="#000" stroke-width="1.6"/>
<line x1="96.80000000000001" y1="575.3" x2="103.0" y2="575.3" stroke="#000" stroke-width="1.6"/>
<line x1="96.80000000000001" y1="592.8" x2="103.0" y2="592.8" stroke="#000" stroke-width="1.6"/>
<rect x="133" y="612.3" width="12.2" height="50.0" fill="#2c4a7e"/>
<line x1="139.1" y1="607.3" x2="139.1" y2="617.8" stroke="#000" stroke-width="1.6"/>
<line x1="136.0" y1="607.3" x2="142.2" y2="607.3" stroke="#000" stroke-width="1.6"/>
<line x1="136.0" y1="617.8" x2="142.2" y2="617.8" stroke="#000" stroke-width="1.6"/>
<text x="138.9" y="605.37" font-size="8.5" text-anchor="middle" font-weight="bold" fill="#000" stroke="#000">*</text>
<rect x="176.8" y="587.9" width="11.8" height="74.39999999999998" fill="#a8002c"/>
<line x1="182.7" y1="579.8" x2="182.7" y2="597.3" stroke="#000" stroke-width="1.6"/>
<line x1="179.6" y1="579.8" x2="185.79999999999998" y2="579.8" stroke="#000" stroke-width="1.6"/>
<line x1="179.6" y1="597.3" x2="185.79999999999998" y2="597.3" stroke="#000" stroke-width="1.6"/>
<rect x="214.5" y="608.0999999999999" width="12.1" height="54.200000000000045" fill="#2c4a7e"/>
<line x1="220.5" y1="600.0" x2="220.5" y2="616.6999999999999" stroke="#000" stroke-width="1.6"/>
<line x1="217.4" y1="600.0" x2="223.6" y2="600.0" stroke="#000" stroke-width="1.6"/>
<line x1="217.4" y1="616.6999999999999" x2="223.6" y2="616.6999999999999" stroke="#000" stroke-width="1.6"/>
<text x="220.4" y="598.37" font-size="8.5" text-anchor="middle" font-weight="bold" fill="#000" stroke="#000">*</text>
<text x="119.4" y="551.2" font-size="10.3" text-anchor="middle" font-weight="normal" fill="#000" stroke="#000">AML#7</text>
<text x="202.2" y="551.0" font-size="10.3" text-anchor="middle" font-weight="normal" fill="#000" stroke="#000">AML#8</text>
<text x="99.4" y="675.0" font-size="10" text-anchor="middle" font-weight="normal" fill="#000" stroke="#000">Ctr</text>
<text x="99.4" y="687.2" font-size="10" text-anchor="middle" font-weight="normal" fill="#000" stroke="#000">shRNA</text>
<text x="139" y="675.0" font-size="10" text-anchor="middle" font-weight="normal" fill="#000" stroke="#000">FABP4</text>
<text x="139" y="687.2" font-size="10" text-anchor="middle" font-weight="normal" fill="#000" stroke="#000">shRNA</text>
<text x="182.6" y="675.0" font-size="10" text-anchor="middle" font-weight="normal" fill="#000" stroke="#000">Ctr</text>
<text x="182.6" y="687.2" font-size="10" text-anchor="middle" font-weight="normal" fill="#000" stroke="#000">shRNA</text>
<text x="221" y="675.0" font-size="10" text-anchor="middle" font-weight="normal" fill="#000" stroke="#000">FABP4</text>
<text x="221" y="687.2" font-size="10" text-anchor="middle" font-weight="normal" fill="#000" stroke="#000">shRNA</text>
<text x="50.3" y="614.5" font-size="10.8" stroke="#000" text-anchor="middle" transform="rotate(-90 50.3 614.5)">AML cell number 1x10<tspan font-size="7.5" dy="-4.5">4</tspan></text>
</svg></body></html>
